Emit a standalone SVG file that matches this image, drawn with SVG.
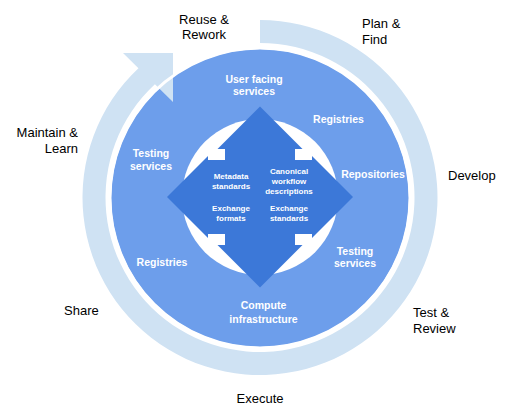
<svg xmlns="http://www.w3.org/2000/svg" width="511" height="417" viewBox="0 0 511 417">
<style>
.outer{font-family:"Liberation Sans",Arial,sans-serif;font-size:13px;fill:#000}
.inner{font-family:"Liberation Sans",Arial,sans-serif;font-size:10.5px;font-weight:bold;fill:#ffffff;text-anchor:middle}
.small{font-family:"Liberation Sans",Arial,sans-serif;font-size:8px;font-weight:bold;fill:#ffffff;text-anchor:middle}
</style>
<rect width="511" height="417" fill="#ffffff"/>
<g id="main-circle">
<circle cx="260" cy="198" r="149" fill="#6d9eeb"/>
</g>
<g id="cycle-ring">
<path d="M 260 20 A 177.5 177.5 0 1 1 138.45 68.15 L 123 53 L 173 53 L 173 102 L 154.9 84.26 A 154.5 154.5 0 1 0 260 43 Z" fill="#cfe2f3"/>
</g>
<g id="circle-outline">
<circle cx="260" cy="198" r="150" fill="none" stroke="#ffffff" stroke-width="3"/>
<circle cx="260" cy="197" r="78" fill="#ffffff"/>
</g>
<g id="quad-arrow">
<path d="M 260 106.5 L 302.5 149 L 295 149 L 295 160 L 312 160 L 312 156 L 353 197 L 312 238 L 312 234 L 295 234 L 295 245 L 302.5 245 L 260 287.5 L 217.5 245 L 225 245 L 225 234 L 208 234 L 208 238 L 167 197 L 208 156 L 208 160 L 225 160 L 225 149 L 217.5 149 Z" fill="#3c78d8"/>
</g>
<g id="phase-labels">
<text class="outer" x="204" y="24" text-anchor="middle">Reuse &amp;</text>
<text class="outer" x="204" y="39" text-anchor="middle">Rework</text>
<text class="outer" x="362" y="28">Plan &amp;</text>
<text class="outer" x="362" y="44">Find</text>
<text class="outer" x="448" y="180">Develop</text>
<text class="outer" x="413" y="317">Test &amp;</text>
<text class="outer" x="413" y="332.5">Review</text>
<text class="outer" x="260" y="403" text-anchor="middle">Execute</text>
<text class="outer" x="64" y="315">Share</text>
<text class="outer" x="78" y="137" text-anchor="end">Maintain &amp;</text>
<text class="outer" x="78" y="153" text-anchor="end">Learn</text>
</g>
<g id="service-labels">
<text class="inner" x="254" y="83">User facing</text>
<text class="inner" x="254" y="95">services</text>
<text class="inner" x="338.5" y="123">Registries</text>
<text class="inner" x="373" y="177.5">Repositories</text>
<text class="inner" x="355" y="255">Testing</text>
<text class="inner" x="355" y="267">services</text>
<text class="inner" x="263.5" y="309">Compute</text>
<text class="inner" x="263.5" y="322.5">infrastructure</text>
<text class="inner" x="162" y="266">Registries</text>
<text class="inner" x="151" y="157">Testing</text>
<text class="inner" x="151" y="169.5">services</text>
</g>
<g id="standards-labels">
<text class="small" x="231" y="179">Metadata</text>
<text class="small" x="231" y="189">standards</text>
<text class="small" x="231" y="211">Exchange</text>
<text class="small" x="231" y="221">formats</text>
<text class="small" x="289" y="174">Canonical</text>
<text class="small" x="289" y="184">workflow</text>
<text class="small" x="289" y="194">descriptions</text>
<text class="small" x="289" y="211">Exchange</text>
<text class="small" x="289" y="221">standards</text>
</g>
</svg>
